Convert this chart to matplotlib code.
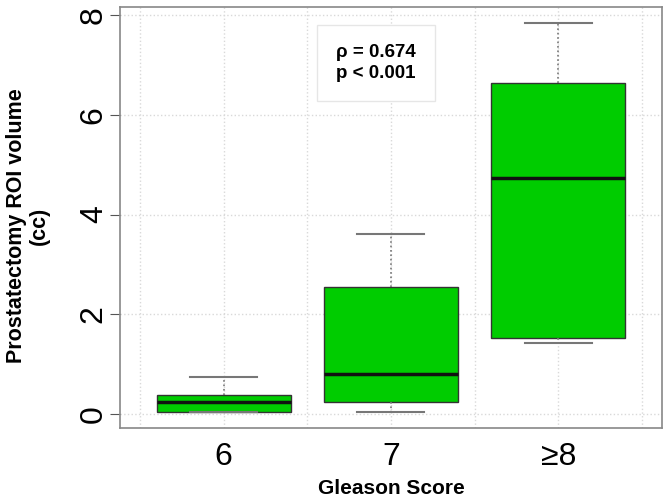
import matplotlib
matplotlib.use("Agg")
import matplotlib.pyplot as plt

plt.rcParams['font.family'] = ['Liberation Sans', 'DejaVu Sans']

# Gleason score groups and box statistics (cc)
groups = ['6', '7', '≥8']
whisker_low = [0.04, 0.04, 1.42]
q1 = [0.04, 0.24, 1.52]
median = [0.24, 0.80, 4.73]
q3 = [0.38, 2.55, 6.63]
whisker_high = [0.74, 3.61, 7.83]

rho_text = 'ρ = 0.674\np < 0.001'

stats = []
for i, name in enumerate(groups):
    stats.append({
        'label': name,
        'whislo': whisker_low[i],
        'q1': q1[i],
        'med': median[i],
        'q3': q3[i],
        'whishi': whisker_high[i],
        'fliers': [],
    })

fig = plt.figure(figsize=(6.66, 5.0), dpi=100)
ax = fig.add_axes([0.180, 0.144, 0.814, 0.842])

# grid like R's grid()
for x in [0.5, 1.0, 1.5, 2.0, 2.5, 3.0, 3.5]:
    ax.axvline(x, color='#d9d9d9', linestyle=':', linewidth=1.0, zorder=0)
for y in [0, 2, 4, 6, 8]:
    ax.axhline(y, color='#d9d9d9', linestyle=':', linewidth=1.0, zorder=0)

ax.bxp(stats, positions=[1, 2, 3], widths=0.8, capwidths=0.4,
       patch_artist=True, showfliers=False,
       boxprops=dict(facecolor='#00cc00', edgecolor='#333333', linewidth=1.0),
       medianprops=dict(color='#111111', linewidth=2.5),
       whiskerprops=dict(color='#777777', linestyle=':', linewidth=1.2),
       capprops=dict(color='#777777', linewidth=1.5))

ax.set_xlim(0.38, 3.62)
ax.set_ylim(-0.28, 8.16)
ax.set_yticks([0, 2, 4, 6, 8])
ax.set_xticks([1, 2, 3])
ax.set_xticklabels(groups, fontsize=23)
ax.tick_params(axis='x', length=0, pad=10)
ax.tick_params(axis='y', length=7, color='#555555', pad=1, labelsize=23)
for lab in ax.get_yticklabels():
    lab.set_rotation(90)
    lab.set_va('center')

for s in ax.spines.values():
    s.set_color('#888888')
    s.set_linewidth(1.2)

ax.set_xlabel('Gleason Score', fontsize=15, fontweight='bold')
ax.xaxis.set_label_coords(0.5, -0.122)
ax.set_ylabel('Prostatectomy ROI volume\n(cc)', fontsize=15.5,
              fontweight='bold', linespacing=1.1)
ax.yaxis.set_label_coords(-0.129, 0.48)

ax.text(1.91, 7.04, rho_text, fontsize=13.5, fontweight='bold',
        ha='center', va='center', linespacing=1.3,
        bbox=dict(boxstyle='square,pad=1.0', facecolor='white',
                  edgecolor='#e6e6e6', linewidth=1.0))

fig.savefig('out.png', dpi=100)
